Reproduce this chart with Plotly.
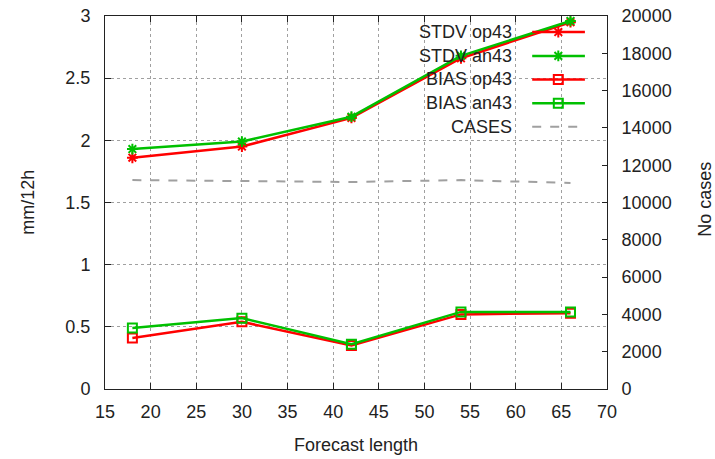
import plotly.graph_objects as go

forecast = [18, 30, 42, 54, 66]
stdv_op43 = [1.86, 1.95, 2.18, 2.66, 2.95]
stdv_an43 = [1.93, 1.99, 2.19, 2.68, 2.96]
bias_op43 = [0.41, 0.54, 0.35, 0.60, 0.61]
bias_an43 = [0.49, 0.57, 0.36, 0.62, 0.62]
cases = [11200, 11150, 11100, 11200, 11050]

x_ticks = [15, 20, 25, 30, 35, 40, 45, 50, 55, 60, 65, 70]
y_ticks = [0, 0.5, 1, 1.5, 2, 2.5, 3]
y2_ticks = list(range(0, 20001, 2000))

RED = "#ff0000"
GREEN = "#00c000"
GRAY = "#a0a0a0"
FONT = "Liberation Sans"
FS = 18

series = [
    ("STDV op43", stdv_op43, RED, "asterisk-open"),
    ("STDV an43", stdv_an43, GREEN, "asterisk-open"),
    ("BIAS op43", bias_op43, RED, "square-open"),
    ("BIAS an43", bias_an43, GREEN, "square-open"),
]

fig = go.Figure()

fig.add_trace(go.Scatter(x=forecast, y=cases, yaxis="y2", mode="lines",
                         line=dict(color=GRAY, width=2, dash="dash"),
                         name="CASES", showlegend=False))
for name, vals, col, sym in series:
    fig.add_trace(go.Scatter(x=forecast, y=vals, mode="lines+markers",
                             line=dict(color=col, width=2.5),
                             marker=dict(symbol=sym, size=9, color=col,
                                         line=dict(color=col, width=2)),
                             name=name, showlegend=False))

# gnuplot-style key (text right, sample on the right), in plot-area fractions
rows_y = [0.957, 0.893, 0.830, 0.766, 0.703]
lx0, lx1, lxm, tx = 0.851, 0.956, 0.903, 0.815
legend_items = series + [("CASES", None, GRAY, None)]
for (name, _, col, sym), ry in zip(legend_items, rows_y):
    if sym is None:
        fig.add_trace(go.Scatter(x=[lx0, lx1], y=[ry, ry], xaxis="x3", yaxis="y3",
                                 mode="lines", line=dict(color=col, width=2, dash="dash"),
                                 showlegend=False, hoverinfo="skip"))
    else:
        fig.add_trace(go.Scatter(x=[lx0, lx1], y=[ry, ry], xaxis="x3", yaxis="y3",
                                 mode="lines", line=dict(color=col, width=2.5),
                                 showlegend=False, hoverinfo="skip"))
        fig.add_trace(go.Scatter(x=[lxm], y=[ry], xaxis="x3", yaxis="y3",
                                 mode="markers",
                                 marker=dict(symbol=sym, size=9, color=col,
                                             line=dict(color=col, width=2)),
                                 showlegend=False, hoverinfo="skip"))
    fig.add_annotation(x=tx, y=ry, xref="x3", yref="y3", text=name, showarrow=False,
                       xanchor="right", yanchor="middle",
                       font=dict(family=FONT, size=FS, color="#222222"))

# white key background (above grid, below data)
fig.add_shape(type="rect", xref="paper", yref="paper", x0=0.557, x1=0.975,
              y0=0.676, y1=0.99, fillcolor="white", line=dict(width=0),
              layer="between")

axis_font = dict(family=FONT, size=FS, color="#222222")
fig.update_layout(
    width=715, height=459,
    margin=dict(l=105, r=108, t=16, b=70, autoexpand=False),
    plot_bgcolor="white", paper_bgcolor="white",
    showlegend=False,
    font=axis_font,
    xaxis=dict(range=[15, 70], tickvals=x_ticks, ticks="inside", ticklen=6,
               tickcolor="#222222", showline=True, linecolor="#222222", linewidth=1,
               mirror="ticks", showgrid=True, gridcolor=GRAY, griddash="dot",
               gridwidth=1, zeroline=False, tickfont=axis_font, ticklabelstandoff=6),
    yaxis=dict(range=[0, 3], tickvals=y_ticks, ticks="inside", ticklen=6,
               tickcolor="#222222", showline=True, linecolor="#222222", linewidth=1,
               showgrid=True, gridcolor=GRAY, griddash="dot", gridwidth=1,
               zeroline=False, tickfont=axis_font, ticklabelstandoff=10),
    yaxis2=dict(range=[0, 20000], tickvals=y2_ticks, tickformat="d",
                overlaying="y", side="right",
                ticks="inside", ticklen=5, tickcolor="#222222", showline=True,
                linecolor="#222222", linewidth=1, showgrid=False, zeroline=False,
                tickfont=axis_font, ticklabelstandoff=10),
    xaxis3=dict(range=[0, 1], overlaying="x", visible=False, fixedrange=True),
    yaxis3=dict(range=[0, 1], overlaying="y", visible=False, fixedrange=True),
)

fig.add_annotation(x=0.5, y=-0.15, xref="paper", yref="paper", text="Forecast length",
                   showarrow=False, xanchor="center", yanchor="middle", font=axis_font)
fig.add_annotation(x=-0.155, y=0.5, xref="paper", yref="paper", text="mm/12h",
                   showarrow=False, textangle=-90, xanchor="center", yanchor="middle",
                   font=axis_font)
fig.add_annotation(x=1.195, y=0.51, xref="paper", yref="paper", text="No cases",
                   showarrow=False, textangle=-90, xanchor="center", yanchor="middle",
                   font=axis_font)

fig.write_html("out.html", config={"displayModeBar": False},
               post_script="document.body.style.margin='0px';")
